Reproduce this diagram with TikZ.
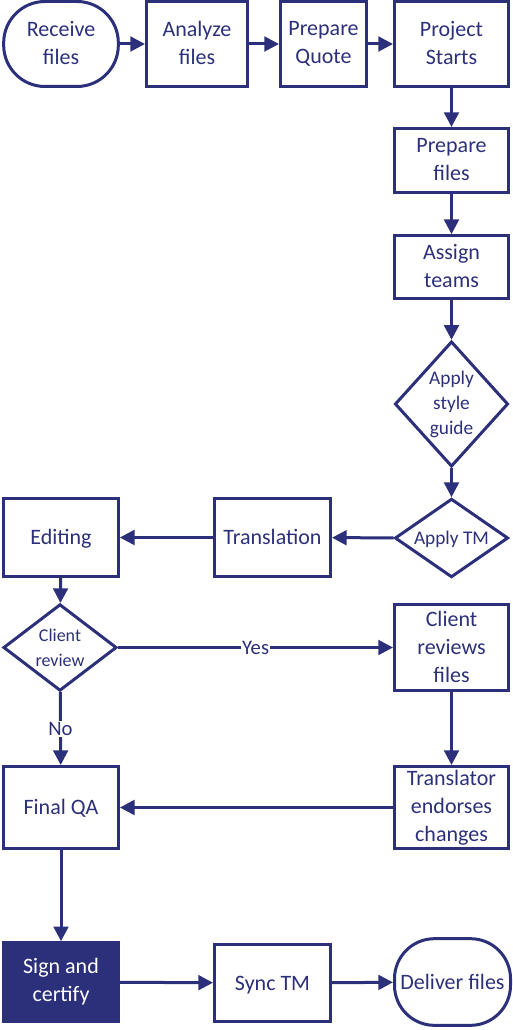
\documentclass[tikz,border=0pt]{standalone}
\usepackage{fontspec}
\setmainfont{Carlito}
\usetikzlibrary{arrows.meta,shapes.geometric}
\definecolor{flowblue}{RGB}{44,48,122}

% struts that centre multi-line text on its capitals
\newcommand{\topstrut}{\rule{0pt}{16pt}}
\newcommand{\botstrut}{\rule[-1.5pt]{0pt}{1.5pt}}

\tikzset{
  box/.style={draw=flowblue, line width=2.25pt, text=flowblue, align=center, inner sep=0pt,
    minimum width=85.5pt, font=\fontsize{16.5}{21}\selectfont,
    execute at begin node=\topstrut, execute at end node=\botstrut},
  oneline/.style={text height=10.5pt, text depth=0pt},
  startstop/.style={box, rounded corners=31pt},
  decision/.style={draw=flowblue, line width=2.25pt, shape=diamond, inner sep=0pt,
    minimum width=85pt},
  dtext/.style={text=flowblue, align=center, font=\fontsize{14.5}{18.75}\selectfont},
  flow/.style={draw=flowblue, line width=2.25pt, -{Triangle[length=11pt, width=11pt]}},
  branch/.style={fill=white, text=flowblue, inner sep=1pt, font=\fontsize{15.5}{19}\selectfont}
}

\begin{document}
\begin{tikzpicture}[x=0.75pt, y=-0.75pt]
  \useasboundingbox (0,0) rectangle (512,1030);

  % top row
  \node[startstop, minimum width=86pt, minimum height=63.75pt] (receive) at (61,44) {Receive\\files};
  \node[box, minimum width=75.75pt, minimum height=63.75pt] (analyze) at (197,44) {Analyze\\files};
  \node[box, minimum width=64.5pt, minimum height=63.75pt] (quote) at (323.5,44) {Prepare\\Quote};
  \node[box, minimum height=63.75pt] (start) at (451.5,44) {Project\\Starts};

  % right column, going down
  \node[box, minimum height=48pt] (prepfiles) at (451.5,160.5) {Prepare\\files};
  \node[box, minimum height=47pt] (assign) at (451.5,267) {Assign\\teams};
  \node[decision, minimum height=94pt] (styleguide) at (451.5,404) {};
  \node[dtext] (styletext) at (styleguide.center) {Apply\\style\\guide};
  \node[decision, minimum height=59pt] (applytm) at (451.5,538) {};
  \node[dtext, oneline, text height=9.5pt] (tmtext) at (applytm.center) {Apply TM};

  % middle row, going left
  \node[box, oneline, minimum width=87pt, minimum height=58.5pt] (translation) at (272.5,537.5) {Translation};
  \node[box, oneline, minimum width=86pt, minimum height=58.5pt] (editing) at (61,537.5) {Editing};

  % review loop
  \node[decision, minimum width=85pt, minimum height=65pt] (review) at (60,647.5) {};
  \node[dtext, font=\fontsize{13.5}{18.75}\selectfont] (reviewtext) at (review.center) {Client\\review};
  \node[box, minimum height=64.5pt] (clientrev) at (451.5,647.5) {Client\\reviews\\files};
  \node[box, minimum height=61.5pt] (endorse) at (451.5,807.5) {Translator\\endorses\\changes};
  \node[box, oneline, minimum width=86pt, minimum height=61.5pt] (finalqa) at (61,807.5) {Final QA};

  % bottom row
  \node[box, fill=flowblue, text=white, minimum width=86pt, minimum height=59pt] (sign) at (61,982) {Sign and\\certify};
  \node[box, oneline, minimum width=87pt, minimum height=58pt] (sync) at (272.5,983) {Sync TM};
  \node[startstop, oneline, minimum width=87pt, minimum height=65pt, rounded corners=30pt] (deliver) at (452.5,982) {Deliver files};

  % connectors
  \draw[flow] (receive) -- (analyze);
  \draw[flow] (analyze) -- (quote);
  \draw[flow] (quote) -- (start);
  \draw[flow] (start) -- (prepfiles);
  \draw[flow] (prepfiles) -- (assign);
  \draw[flow] (assign) -- (styleguide);
  \draw[flow] (styleguide) -- (applytm);
  \draw[flow] (applytm) -- (translation);
  \draw[flow] (translation) -- (editing);
  \draw[flow] (editing) -- (review);
  \draw[flow] (review) -- node[branch] {Yes} (clientrev);
  \draw[flow] (review) -- node[branch] {No} (finalqa);
  \draw[flow] (clientrev) -- (endorse);
  \draw[flow] (endorse) -- (finalqa);
  \draw[flow] (finalqa) -- (sign);
  \draw[flow] (sign) -- (sync);
  \draw[flow] (sync) -- (deliver);
\end{tikzpicture}
\end{document}
